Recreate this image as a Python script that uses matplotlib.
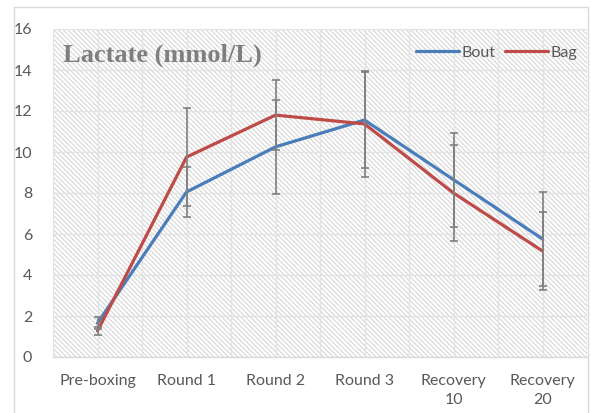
import matplotlib
matplotlib.use("Agg")
import matplotlib.pyplot as plt
from matplotlib.patches import Rectangle
import numpy as np

categories = ["Pre-boxing", "Round 1", "Round 2", "Round 3", "Recovery\n10", "Recovery\n20"]
bout = [1.65, 8.05, 10.25, 11.56, 8.65, 5.76]
bout_err = [0.3, 1.2, 2.3, 2.35, 2.3, 2.3]
bag = [1.27, 9.75, 11.8, 11.37, 8.0, 5.17]
bag_err = [0.2, 2.4, 1.7, 2.6, 2.35, 1.9]
title = "Lactate (mmol/L)"

plt.rcParams['hatch.linewidth'] = 0.9
fig = plt.figure(figsize=(5.91, 4.13), dpi=100, facecolor='white')
fig.patches.append(Rectangle((14/591, -0.1), (588-14)/591, (413-7)/413 + 0.1,
                             transform=fig.transFigure, facecolor='none',
                             edgecolor='#d9d9d9', lw=1.0, zorder=-1))
ax = fig.add_axes([53/591, (413-357)/413, (587-53)/591, (357-29)/413])
ax.set_facecolor('none')
ax.add_patch(Rectangle((0, 0), 1, 1, transform=ax.transAxes, facecolor='white',
                       hatch='\\' * 7, edgecolor='#dadada', lw=0, zorder=0))

x = np.arange(len(categories))
blue = '#4a7ebb'
red = '#be4b48'
ax.plot(x, bout, color=blue, lw=2.3, zorder=3, label='Bout', solid_capstyle='round')
ax.plot(x, bag, color=red, lw=2.3, zorder=3, label='Bag', solid_capstyle='round')
ax.errorbar(x, bout, yerr=bout_err, fmt='none', ecolor='#808080', elinewidth=1.2, capsize=3, capthick=1.2, zorder=4)
ax.errorbar(x, bag, yerr=bag_err, fmt='none', ecolor='#808080', elinewidth=1.2, capsize=3, capthick=1.2, zorder=4)

ax.set_xlim(-0.5, 5.5)
ax.set_ylim(0, 16)
ax.set_yticks(np.arange(0, 17, 2))
ax.set_xticks(x)
ax.set_xticks(np.arange(-0.5, 5.6, 1.0), minor=True)
ax.set_xticklabels(categories, fontsize=11.5, color='#595959', family='Lato', linespacing=1.45)
ax.set_yticklabels([str(v) for v in range(0, 17, 2)], fontsize=11.5, color='#595959', family='Lato')
ax.tick_params(axis='both', which='both', length=0)
ax.tick_params(axis='x', pad=12)
ax.tick_params(axis='y', pad=15)
ax.grid(True, axis='y', color='#e3e3e3', lw=1.0, zorder=1)
ax.grid(True, axis='x', which='both', color='#e3e3e3', lw=1.0, zorder=1)
for s in ['top', 'right', 'left']:
    ax.spines[s].set_visible(False)
ax.spines['bottom'].set_color('#d9d9d9')
ax.spines['bottom'].set_linewidth(1.0)

ax.text(63/591, 1 - 55/413, title, transform=fig.transFigure, fontsize=19, fontweight='bold',
        color='#7f7f7f', family='Liberation Serif', va='center', ha='left')
leg = ax.legend(loc='center right', bbox_to_anchor=(1.008, 0.927), ncol=2, frameon=False,
                handlelength=2.7, handletextpad=0.15, columnspacing=0.6,
                prop={'family': 'Lato', 'size': 11.5})
for t in leg.get_texts():
    t.set_color('#595959')

fig.savefig('out.png', dpi=100)
